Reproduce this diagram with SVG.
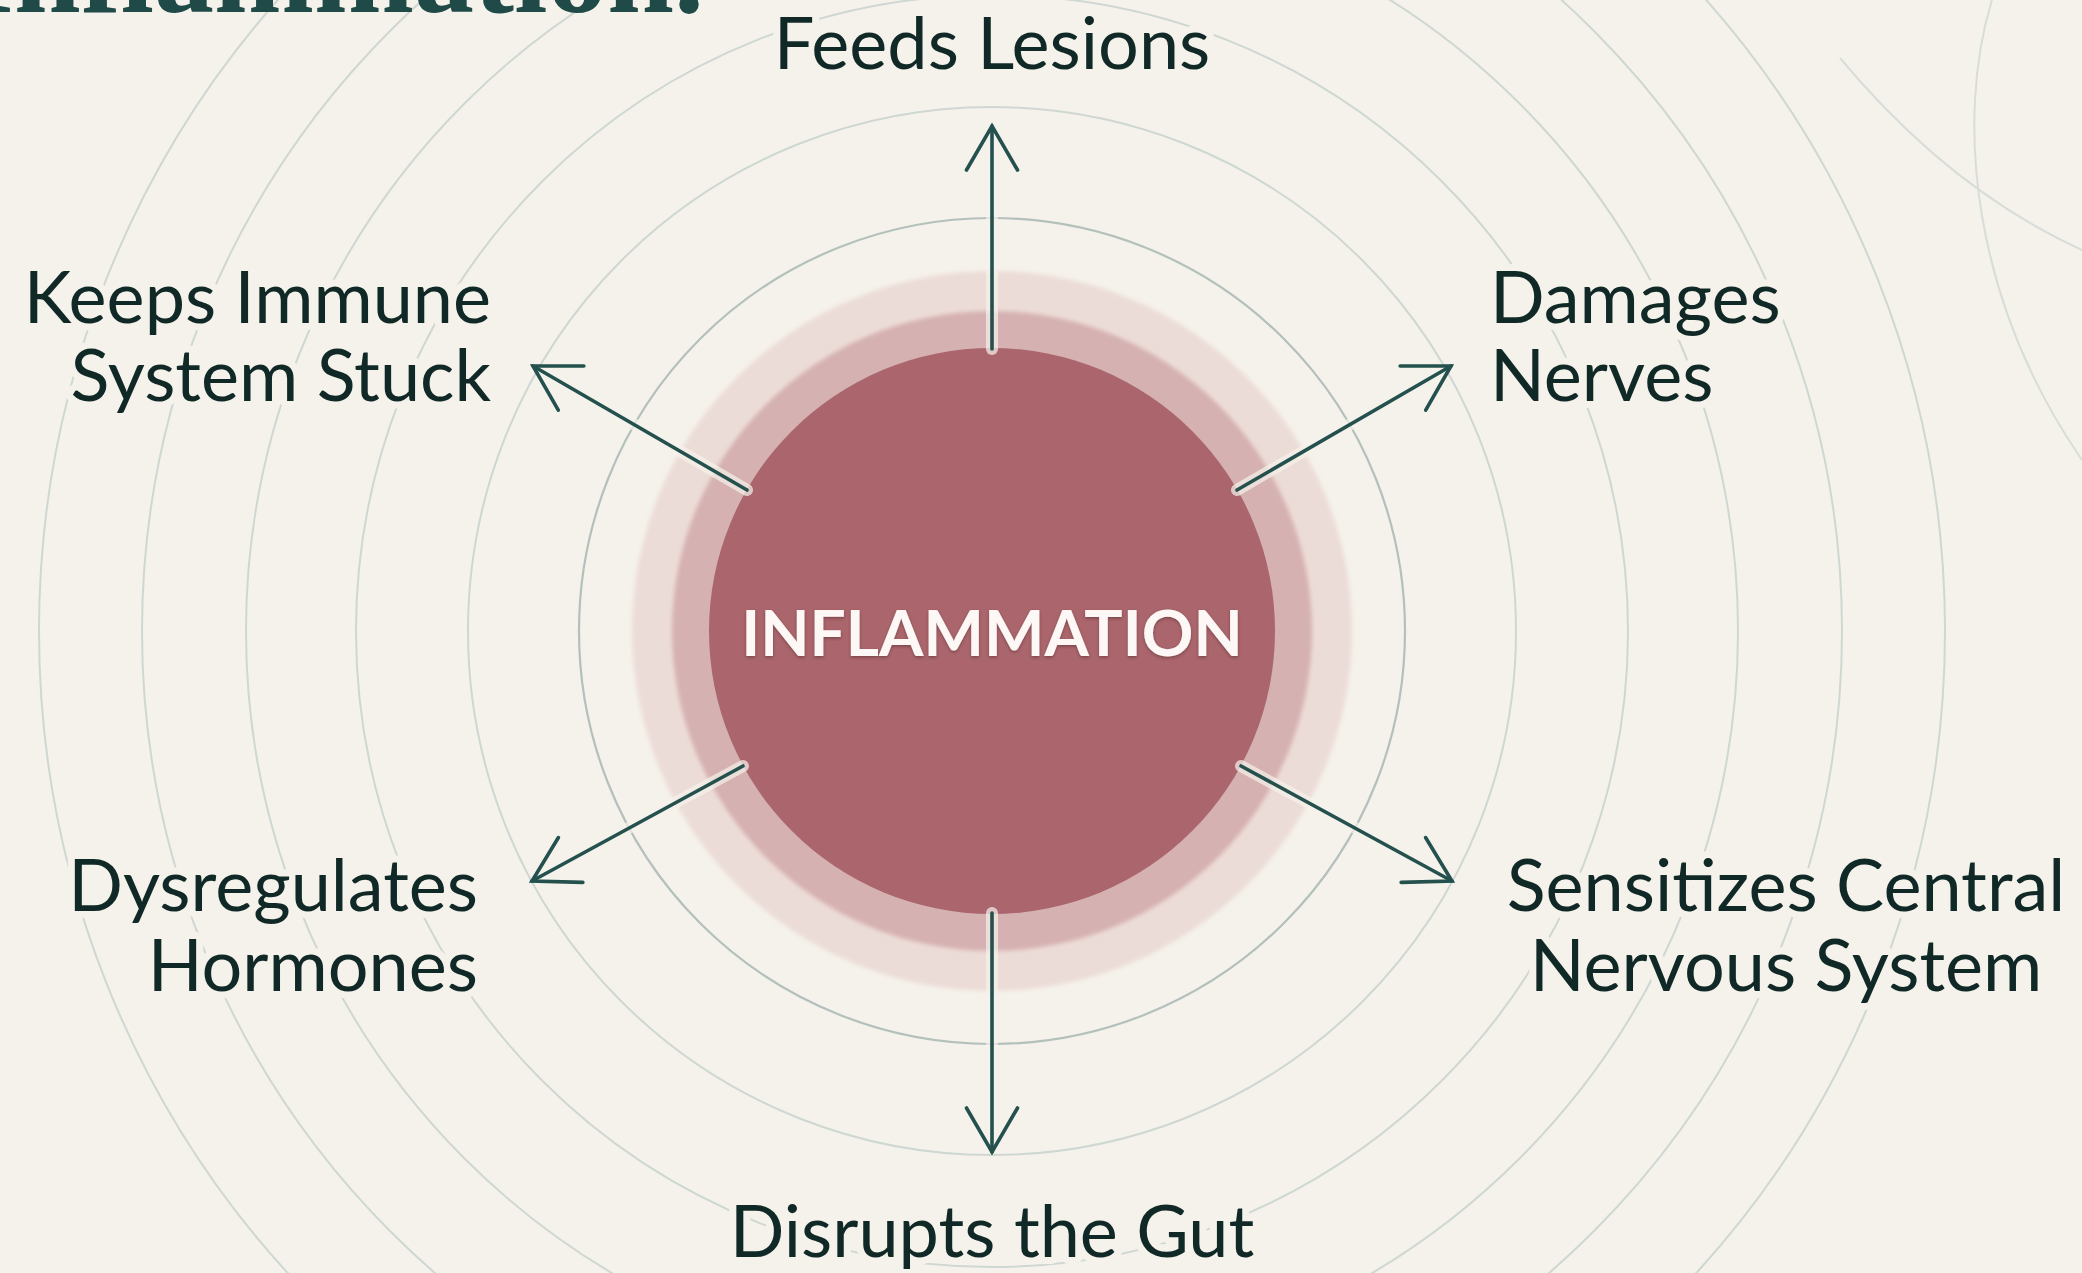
<svg xmlns="http://www.w3.org/2000/svg" width="2082" height="1273" viewBox="0 0 2082 1273">
  <defs>
    <style>
      .ring { fill: none; stroke: #cfd7d2; stroke-width: 2; }
      .ring-in { fill: none; stroke: #b3c0bb; stroke-width: 2.2; }
      .deco { fill: none; stroke: #d8ddd9; stroke-width: 2; }
      .label { font-family: Lato, "Open Sans", "Liberation Sans", sans-serif; font-size: 72px; fill: #102826; stroke: #f5f2eb; stroke-width: 14; stroke-linejoin: round; paint-order: stroke; }
      .halo { stroke: #f5f2eb; stroke-width: 12; stroke-linecap: round; fill: none; opacity: 0.7; }
      .shaft { stroke: #24504e; stroke-width: 3.6; stroke-linecap: round; fill: none; marker-end: url(#chev); }
      .title { font-family: "Liberation Serif", "DejaVu Serif", serif; font-weight: bold; font-size: 120px; fill: #1f4a48; }
      .core-text { font-family: Lato, "Open Sans", "Liberation Sans", sans-serif; font-weight: bold; font-size: 64px; fill: #fdf7f5; }
    </style>
    <marker id="chev" markerUnits="userSpaceOnUse" markerWidth="120" markerHeight="120" refX="0" refY="0" viewBox="-60 -60 120 120" orient="auto" overflow="visible">
      <path d="M -44,-25.5 L 0,0 L -44,25.5" fill="none" stroke="#24504e" stroke-width="3.6" stroke-linecap="round" stroke-linejoin="miter"/>
    </marker>
    <filter id="soft" x="-20%" y="-20%" width="140%" height="140%">
      <feGaussianBlur stdDeviation="2"/>
    </filter>
    <filter id="tshadow" x="-10%" y="-30%" width="120%" height="160%">
      <feDropShadow dx="0" dy="1.5" stdDeviation="1.5" flood-color="#5a2a30" flood-opacity="0.6"/>
    </filter>
  </defs>

  <rect x="0" y="0" width="2082" height="1273" fill="#f5f2eb"/>

  <g id="background-rings">
    <circle class="ring-in" cx="992" cy="631" r="413"/>
    <circle class="ring" cx="992" cy="631" r="524"/>
    <circle class="ring" cx="992" cy="631" r="636"/>
    <circle class="ring" cx="992" cy="631" r="746"/>
    <circle class="ring" cx="992" cy="631" r="850"/>
    <circle class="ring" cx="992" cy="631" r="953"/>
    <path class="deco" d="M 1992,0 C 1955,120 1972,300 2082,460"/>
    <path class="deco" d="M 1840,58 Q 1950,190 2082,250"/>
  </g>

  <g id="title">
    <text class="title" x="704" y="12" text-anchor="end">Inflammation.</text>
  </g>

  <g id="inflammation">
    <circle cx="992" cy="631" r="360" fill="#ecdcd7" filter="url(#soft)"/>
    <circle cx="992" cy="631" r="320" fill="#d5b1b1" filter="url(#soft)"/>
    <circle cx="992" cy="631" r="283" fill="#aa666c"/>
    <text class="core-text" x="992" y="656" text-anchor="middle" filter="url(#tshadow)">INFLAMMATION</text>
  </g>

  <g id="connectors">
    <line class="halo" x1="992" y1="349" x2="992" y2="140"/>
    <line class="halo" x1="992" y1="913" x2="992" y2="1140"/>
    <line class="halo" x1="1237" y1="490" x2="1440" y2="372"/>
    <line class="halo" x1="747" y1="490" x2="544" y2="372"/>
    <line class="halo" x1="1241" y1="766" x2="1442" y2="875"/>
    <line class="halo" x1="743" y1="766" x2="542" y2="875"/>
    <line class="shaft" x1="992" y1="349" x2="992" y2="126"/>
    <line class="shaft" x1="992" y1="913" x2="992" y2="1152"/>
    <line class="shaft" x1="1237" y1="490" x2="1451" y2="366"/>
    <line class="shaft" x1="747" y1="490" x2="533" y2="366"/>
    <line class="shaft" x1="1241" y1="766" x2="1452" y2="881"/>
    <line class="shaft" x1="743" y1="766" x2="532" y2="881"/>
  </g>

  <g id="feeds-lesions">
    <text class="label" x="992" y="69" text-anchor="middle">Feeds Lesions</text>
  </g>
  <g id="keeps-immune">
    <text class="label" x="491" y="323" text-anchor="end">Keeps Immune</text>
    <text class="label" x="491" y="401" text-anchor="end">System Stuck</text>
  </g>
  <g id="damages-nerves">
    <text class="label" x="1490" y="323">Damages</text>
    <text class="label" x="1490" y="401">Nerves</text>
  </g>
  <g id="dysregulates-hormones">
    <text class="label" x="478" y="911" text-anchor="end">Dysregulates</text>
    <text class="label" x="478" y="991" text-anchor="end">Hormones</text>
  </g>
  <g id="sensitizes-cns">
    <text class="label" x="1786" y="911" text-anchor="middle">Sensitizes Central</text>
    <text class="label" x="1786" y="991" text-anchor="middle">Nervous System</text>
  </g>
  <g id="disrupts-gut">
    <text class="label" x="992" y="1257" text-anchor="middle">Disrupts the Gut</text>
  </g>
</svg>
